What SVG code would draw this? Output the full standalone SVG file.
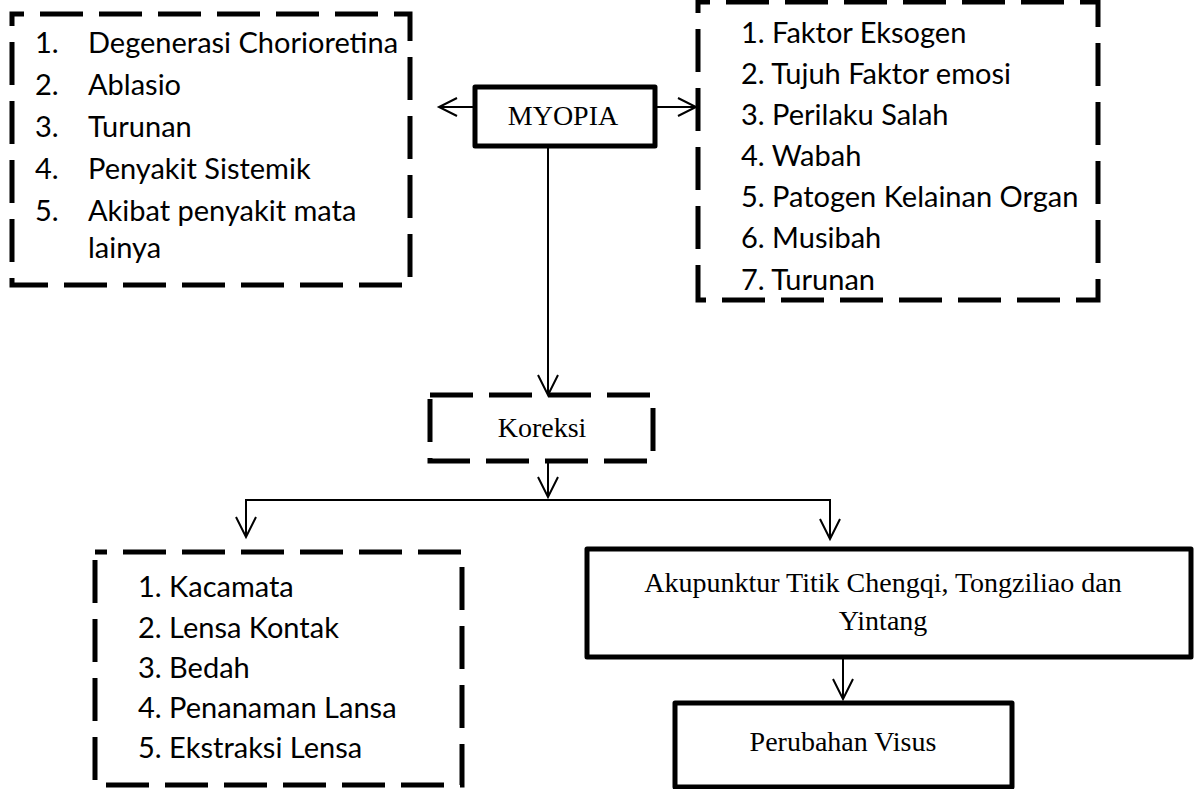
<svg xmlns="http://www.w3.org/2000/svg" width="1194" height="789" viewBox="0 0 1194 789">
<defs>
<style>
.dash{fill:none;stroke:#000;stroke-width:5;stroke-dasharray:43 16}
.solid{fill:none;stroke:#000;stroke-width:5;stroke-linejoin:round}
.conn{fill:none;stroke:#000;stroke-width:2}
.head{fill:none;stroke:#000;stroke-width:2;stroke-linejoin:miter}
.sans{font-family:Lato,"Liberation Sans",sans-serif;font-size:29px;fill:#000}
.serif{font-family:"Liberation Serif","Times New Roman",serif;font-size:28px;fill:#000}
</style>
</defs>
<rect width="1194" height="789" fill="#fff"/>

<g id="connectors">
<line class="conn" x1="475" y1="107" x2="439" y2="107"/>
<polyline class="head" points="457,98 439,107 457,116"/>
<line class="conn" x1="655" y1="107" x2="696" y2="107"/>
<polyline class="head" points="678,98 696,107 678,116"/>
<line class="conn" x1="548" y1="146" x2="548" y2="395"/>
<polyline class="head" points="538,375 548,395 558,375"/>
<line class="conn" x1="548" y1="461" x2="548" y2="497"/>
<polyline class="head" points="538,477 548,497 558,477"/>
<line class="conn" x1="245" y1="500" x2="831" y2="500"/>
<line class="conn" x1="246" y1="500" x2="246" y2="537"/>
<polyline class="head" points="236,517 246,537 256,517"/>
<line class="conn" x1="830" y1="500" x2="830" y2="539"/>
<polyline class="head" points="820,519 830,539 840,519"/>
<line class="conn" x1="843" y1="657" x2="843" y2="699"/>
<polyline class="head" points="833,679 843,699 853,679"/>
</g>

<g id="node-left">
<rect class="dash" x="12" y="14" width="398" height="271" stroke-dashoffset="31"/>
<text class="sans" x="35" y="53">1.</text><text class="sans" x="88" y="53">Degenerasi Chorioretina</text>
<text class="sans" x="35" y="95">2.</text><text class="sans" x="88" y="95">Ablasio</text>
<text class="sans" x="35" y="137">3.</text><text class="sans" x="88" y="137">Turunan</text>
<text class="sans" x="35" y="179">4.</text><text class="sans" x="88" y="179">Penyakit Sistemik</text>
<text class="sans" x="35" y="221">5.</text><text class="sans" x="88" y="221">Akibat penyakit mata</text>
<text class="sans" x="88" y="258">lainya</text>
</g>

<g id="node-right">
<rect class="dash" x="698" y="2" width="400" height="298" stroke-dashoffset="31"/>
<text class="sans" x="741" y="43">1.  Faktor Eksogen</text>
<text class="sans" x="741" y="84">2.  Tujuh Faktor emosi</text>
<text class="sans" x="741" y="125">3.  Perilaku Salah</text>
<text class="sans" x="741" y="166">4.  Wabah</text>
<text class="sans" x="741" y="207">5.  Patogen Kelainan Organ</text>
<text class="sans" x="741" y="248">6.  Musibah</text>
<text class="sans" x="741" y="290">7.  Turunan</text>
</g>

<g id="node-myopia">
<rect class="solid" x="475" y="87" width="180" height="59"/>
<text class="serif" x="563" y="125" text-anchor="middle">MYOPIA</text>
</g>

<g id="node-koreksi">
<rect class="dash" x="430" y="395" width="223" height="66" stroke-dasharray="42 17"/>
<text class="serif" x="542" y="437" text-anchor="middle">Koreksi</text>
</g>

<g id="node-lensa">
<rect class="dash" x="95" y="552" width="367" height="233" stroke-dashoffset="31"/>
<text class="sans" x="138" y="597">1.  Kacamata</text>
<text class="sans" x="138" y="638">2.  Lensa Kontak</text>
<text class="sans" x="138" y="678">3.  Bedah</text>
<text class="sans" x="138" y="718">4.  Penanaman Lansa</text>
<text class="sans" x="138" y="758">5.  Ekstraksi Lensa</text>
</g>

<g id="node-akupunktur">
<rect class="solid" x="587" y="549" width="604" height="108"/>
<text class="serif" x="883" y="592" text-anchor="middle">Akupunktur Titik Chengqi, Tongziliao dan</text>
<text class="serif" x="883" y="630" text-anchor="middle">Yintang</text>
</g>

<g id="node-visus">
<rect class="solid" x="675" y="703" width="337" height="84"/>
<text class="serif" x="843" y="751" text-anchor="middle">Perubahan Visus</text>
</g>
</svg>
